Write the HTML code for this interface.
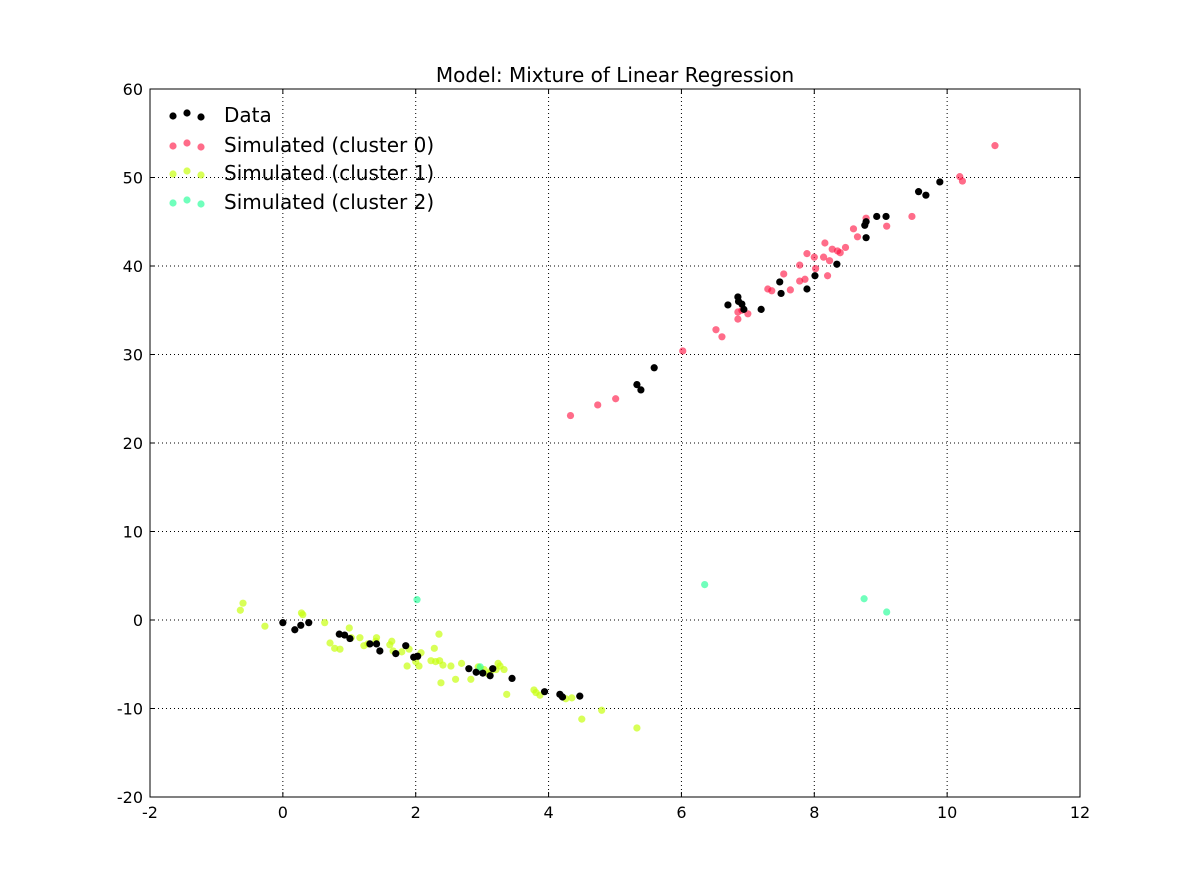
<!DOCTYPE html>
<html><head><meta charset="utf-8"><style>
html,body{margin:0;padding:0;background:#fff}
svg{display:block;font-family:"DejaVu Sans","Liberation Sans",sans-serif}
</style></head><body>
<svg id="chart" width="1200" height="885">
<rect width="1200" height="885" fill="#fff"/>
<text x="615" y="82" text-anchor="middle" font-size="20">Model: Mixture of Linear Regression</text>
<g id="grid"></g>
<g id="marks"></g>
<rect x="150" y="89" width="930" height="708" fill="none" stroke="#000" stroke-width="1"/>
<g id="ticks"></g>
<g id="legend"></g>
</svg>
<script>
const xTicks=[-2,0,2,4,6,8,10,12];
const yTicks=[-20,-10,0,10,20,30,40,50,60];
const dataX=[0,0.18,0.27,0.39,0.85,0.93,1.01,1.31,1.41,1.46,1.70,1.85,1.97,2.03,2.80,2.91,3.01,3.12,3.16,3.45,3.94,4.17,4.21,4.47,5.33,5.39,5.59,6.70,6.85,6.86,6.91,6.94,7.2,7.48,7.50,7.89,8.01,8.34,8.76,8.78,8.94,9.08,9.57,9.68,9.89,8.78];
const dataY=[-0.3,-1.1,-0.6,-0.3,-1.6,-1.7,-2.1,-2.7,-2.7,-3.5,-3.8,-2.9,-4.2,-4.1,-5.5,-5.9,-6.0,-6.3,-5.5,-6.6,-8.1,-8.4,-8.7,-8.6,26.6,26.0,28.5,35.6,36.5,36.0,35.7,35.1,35.1,38.2,36.9,37.4,38.9,40.2,44.6,43.2,45.6,45.6,48.4,48.0,49.5,45.0];
const c0X=[4.33,4.74,5.01,6.02,6.52,6.61,6.85,6.85,6.91,7.0,7.3,7.36,7.54,7.64,7.78,7.78,7.86,7.89,8.0,8.02,8.14,8.16,8.20,8.23,8.27,8.35,8.39,8.47,8.59,8.65,8.78,9.47,9.09,10.19,10.23,10.72];
const c0Y=[23.1,24.3,25.0,30.4,32.8,32.0,34.0,34.8,35.0,34.6,37.4,37.2,39.1,37.3,40.1,38.3,38.5,41.4,41.0,39.7,41.0,42.6,38.9,40.6,41.9,41.7,41.5,42.1,44.2,43.3,45.4,45.6,44.5,50.1,49.6,53.6];
const c1X=[-0.64,-0.6,-0.27,0.28,0.3,0.63,0.71,0.78,0.86,1.0,1.03,1.16,1.22,1.28,1.40,1.41,1.61,1.64,1.66,1.79,1.87,1.9,2.0,2.05,2.08,2.23,2.28,2.3,2.35,2.36,2.38,2.41,2.53,2.6,2.69,2.83,2.94,3.03,3.09,3.13,3.21,3.24,3.27,3.33,3.37,3.78,3.81,3.87,4.26,4.35,4.5,4.8,5.33];
const c1Y=[1.1,1.9,-0.7,0.8,0.6,-0.3,-2.6,-3.2,-3.3,-0.9,-2.0,-2.0,-2.9,-2.7,-2.4,-2.0,-2.8,-2.4,-3.5,-3.6,-5.2,-3.3,-4.7,-5.2,-3.7,-4.6,-3.2,-4.7,-1.6,-4.6,-7.1,-5.1,-5.2,-6.7,-4.9,-6.7,-5.3,-5.6,-6.1,-5.8,-5.6,-4.9,-5.2,-5.6,-8.4,-7.9,-8.2,-8.5,-8.9,-8.8,-11.2,-10.2,-12.2];
const c2X=[2.02,6.35,8.75,9.09,2.97];
const c2Y=[2.3,4.0,2.4,0.9,-5.3];

const NS="http://www.w3.org/2000/svg";
const L=150,R=1080,T=89,B=797,xMin=-2,xMax=12,yMin=-20,yMax=60;
const sx=v=>L+(v-xMin)/(xMax-xMin)*(R-L);
const sy=v=>B-(v-yMin)/(yMax-yMin)*(B-T);
function mk(tag,attrs,parent){const e=document.createElementNS(NS,tag);for(const k in attrs)e.setAttribute(k,attrs[k]);parent.appendChild(e);return e;}
const grid=document.getElementById('grid'),ticks=document.getElementById('ticks'),marks=document.getElementById('marks'),legend=document.getElementById('legend');
xTicks.forEach(t=>{const x=sx(t);
 const g=mk('line',{x1:x,x2:x,y1:T,y2:B,stroke:'#000','stroke-dasharray':'1,3','stroke-width':1},grid);
 
 
 mk('line',{x1:x,x2:x,y1:B,y2:B-5,stroke:'#000'},ticks);
 mk('line',{x1:x,x2:x,y1:T,y2:T+5,stroke:'#000'},ticks);
 const tx=mk('text',{x:x,y:B+21,'text-anchor':'middle','font-size':16},ticks);tx.textContent=t;
 
 
});
yTicks.forEach(t=>{const y=sy(t);
 const g=mk('line',{x1:L,x2:R,y1:y,y2:y,stroke:'#000','stroke-dasharray':'1,3','stroke-width':1},grid);
 
 
 mk('line',{x1:L,x2:L+5,y1:y,y2:y,stroke:'#000'},ticks);
 mk('line',{x1:R,x2:R-5,y1:y,y2:y,stroke:'#000'},ticks);
 const tx=mk('text',{x:L-7,y:y+6,'text-anchor':'end','font-size':16},ticks);tx.textContent=t;
 
 
});
function series(xs,ys,fill,op,name){xs.forEach((v,i)=>{
 const c=mk('circle',{cx:sx(v),cy:sy(ys[i]),r:3.6,fill:fill,'fill-opacity':op},marks);
 
 
});}
series(c0X,c0Y,'#ff0a3a',0.6,'point-cluster-0');
series(c1X,c1Y,'#c8ff10',0.7,'point-cluster-1');
series(dataX,dataY,'#000',1,'point-data');
series(c2X,c2Y,'#10ff90',0.6,'point-cluster-2');
const leg=[['Data','#000',1],['Simulated (cluster 0)','#ff0a3a',0.6],['Simulated (cluster 1)','#c8ff10',0.7],['Simulated (cluster 2)','#10ff90',0.6]];
const legY=[115,145,173,202];
leg.forEach((e,i)=>{const y=legY[i];
 [[173,1],[187,-2],[201,2]].forEach(p=>mk('circle',{cx:p[0],cy:y+p[1],r:3.6,fill:e[1],'fill-opacity':e[2]},legend));
 const t=mk('text',{x:224,y:y+7,'font-size':20},legend);t.textContent=e[0];
 
 
});
</script>
</body></html>
